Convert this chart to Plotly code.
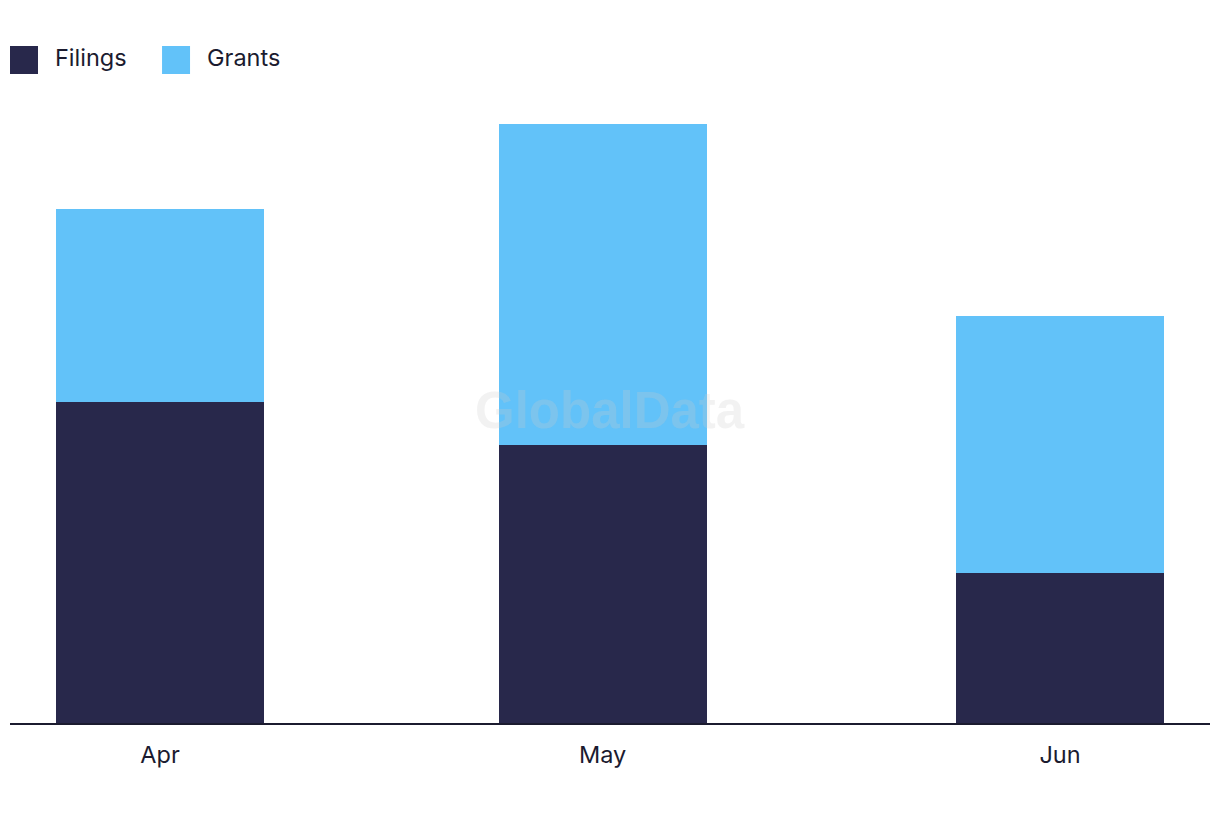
import plotly.graph_objects as go

# Data
months = ["2023-04-01", "2023-05-01", "2023-06-01"]
tick_labels = ["Apr", "May", "Jun"]
filings = [15, 13, 7]
grants = [9, 15, 12]
series_names = ["Filings", "Grants"]
series_colors = ["#28284B", "#62C2F9"]

TEXT = "#1B1B2F"
FONT = "Inter, 'Open Sans', sans-serif"
BAR_WIDTH_MS = 14.1 * 86400000

fig = go.Figure()
for name, vals, col in zip(series_names, [filings, grants], series_colors):
    fig.add_trace(go.Bar(
        x=months, y=vals, name=name, marker=dict(color=col, line=dict(width=0)),
        width=[BAR_WIDTH_MS] * len(months), showlegend=False,
    ))

# Custom legend (large square swatches)
shapes = []
annotations = []
leg_x = [0.0, 0.1267]
for i, (name, col) in enumerate(zip(series_names, series_colors)):
    x0 = leg_x[i]
    shapes.append(dict(type="rect", xref="paper", yref="paper",
                       x0=x0, x1=x0 + 28 / 1200, y0=1.0417, y1=1.0867,
                       fillcolor=col, line=dict(width=0)))
    annotations.append(dict(xref="paper", yref="paper", x=x0 + 43 / 1200, y=1.0690,
                            text=name, showarrow=False, xanchor="left", yanchor="middle",
                            font=dict(family=FONT, size=23.5, color=TEXT)))

# Watermark
annotations.append(dict(xref="paper", yref="paper", x=0.5, y=0.5024, text="<b>GlobalData</b>",
                        showarrow=False, xanchor="center", yanchor="middle",
                        font=dict(family="Liberation Sans, Arial, sans-serif", size=51,
                                  color="rgba(205,205,205,0.25)")))

fig.update_layout(
    width=1220, height=822,
    margin=dict(l=10, r=10, t=100, b=99),
    paper_bgcolor="white", plot_bgcolor="white",
    barmode="stack",
    shapes=shapes, annotations=annotations,
    font=dict(family=FONT, color=TEXT),
    xaxis=dict(type="date", range=["2023-03-21 20:00", "2023-06-11 04:00"],
               tickvals=months, ticktext=tick_labels, showgrid=False, zeroline=False,
               showline=True, linecolor=TEXT, linewidth=2, ticks="",
               ticklabelstandoff=10, tickfont=dict(family=FONT, size=23.5, color=TEXT)),
    yaxis=dict(range=[0, 29.11], visible=False, showgrid=False, zeroline=False),
)

fig.write_html("out.html")
